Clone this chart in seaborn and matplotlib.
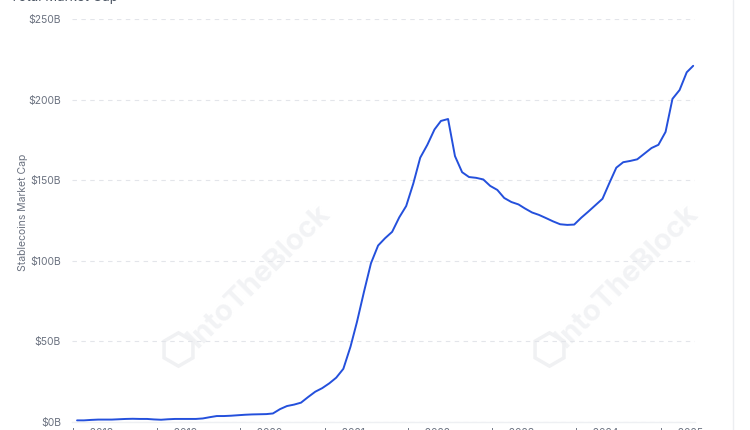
import pandas as pd
import seaborn as sns
import matplotlib.pyplot as plt
import matplotlib.dates as mdates
from matplotlib.ticker import FuncFormatter

# monthly stablecoin market cap, $B (Nov 2017 .. Mar 2025)
start_month = "2017-11-01"
market_cap = [
    1.0, 1.0,
    1.3, 1.5, 1.5, 1.5, 1.7, 1.9, 2.0, 1.9, 1.9, 1.6, 1.4, 1.7,
    1.9, 1.9, 1.9, 1.9, 2.2, 3.0, 3.7, 3.7, 3.9, 4.2, 4.5, 4.7,
    4.8, 4.9, 5.3, 8.0, 9.9, 10.8, 12.0, 15.5, 18.8, 21.0, 24.0, 27.5,
    33.0, 46.7, 62.0, 81.0, 98.5, 109.5, 114.0, 118.0, 127.0, 134.0, 148.0, 164.0,
    172.0, 181.5, 186.8, 188.0, 165.0, 155.0, 152.0, 151.5, 150.5, 146.5, 144.0, 139.0,
    136.5, 135.0, 132.5, 130.0, 128.5, 126.5, 124.5, 122.7, 122.3, 122.5, 126.8, 130.5,
    134.5, 138.5, 148.0, 157.8, 161.2, 162.0, 163.0, 166.5, 170.0, 172.0, 180.0, 200.5,
    206.0, 217.0, 221.0,
]
y_ticks = [0, 50, 100, 150, 200, 250]
x_tick_years = [2018, 2019, 2020, 2021, 2022, 2023, 2024, 2025]

df = pd.DataFrame({
    "date": pd.date_range(start_month, periods=len(market_cap), freq="MS"),
    "cap": market_cap,
})

sns.set_theme(style="white")
plt.rcParams["font.family"] = ["Inter", "DejaVu Sans"]

fig = plt.figure(figsize=(7.5, 4.3), dpi=100)
ax = fig.add_axes([0.096, 0.0186, 0.831, 0.937])

sns.lineplot(data=df, x="date", y="cap", ax=ax, color="#2450dc", linewidth=1.4)

ax.set_ylim(0, 250)
ax.set_yticks(y_ticks)
ax.yaxis.set_major_formatter(FuncFormatter(lambda v, p: f"${v:.0f}B"))
ax.set_xlim(pd.Timestamp("2017-10-10"), pd.Timestamp("2025-03-10"))
ax.set_xticks([pd.Timestamp(f"{y}-01-01") for y in x_tick_years])
ax.xaxis.set_major_formatter(mdates.DateFormatter("Jan %Y"))

ax.grid(axis="y", color="#e3e5ea", linestyle=(0, (4, 4)), linewidth=0.8)
ax.set_axisbelow(True)
for s in ["top", "right", "left"]:
    ax.spines[s].set_visible(False)
ax.spines["bottom"].set_color("#eef0f3")
ax.spines["bottom"].set_linewidth(1.0)

ax.tick_params(axis="both", length=0, labelsize=7.5, labelcolor="#6b7280")
ax.tick_params(axis="y", pad=8)
ax.tick_params(axis="x", pad=4)
ax.set_xlabel("")
ax.set_ylabel("Stablecoins Market Cap", fontsize=7.5, color="#6b7280", labelpad=10)
ax.yaxis.set_label_coords(-0.07, 0.52)

# watermarks (logo + text)
for wx, lx in [(0.30, 0.17), (0.89, 0.765)]:
    ax.text(wx, 0.36, "IntoTheBlock", transform=ax.transAxes, rotation=45,
            fontsize=21, fontweight="bold", color="#f2f3f5", ha="center",
            va="center", zorder=0)
    ax.plot([lx], [0.18], transform=ax.transAxes, marker="h", markersize=24,
            markerfacecolor="none", markeredgecolor="#f0f1f3",
            markeredgewidth=2.5, zorder=0)

fig.text(0.013, 0.99, "Total Market Cap", fontsize=9.5, color="#4b5563",
         ha="left", va="bottom")
fig.add_artist(plt.Line2D([0.977, 0.977], [0, 1], transform=fig.transFigure,
                          color="#eceef1", linewidth=1.0))

fig.savefig("out.png", dpi=100)
